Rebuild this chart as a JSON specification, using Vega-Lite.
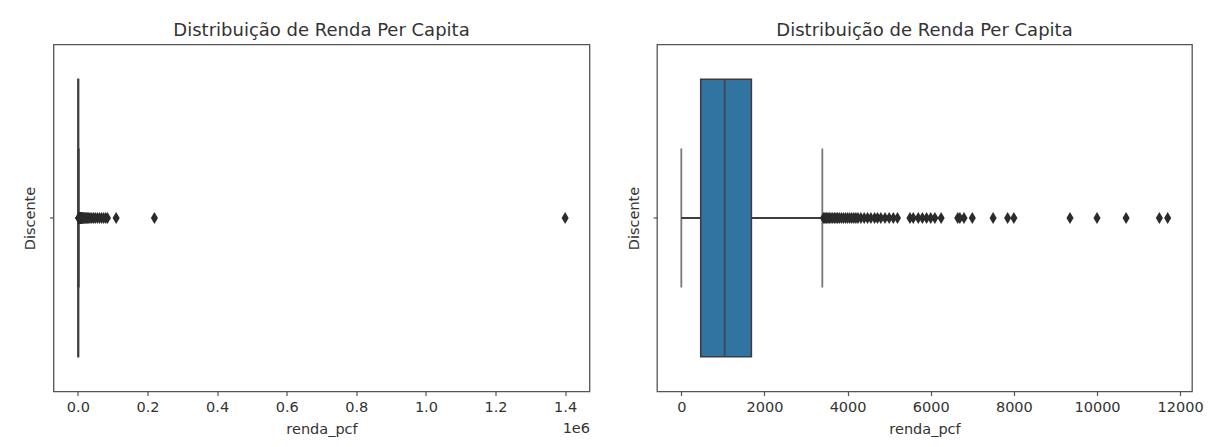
{
  "$schema": "https://vega.github.io/schema/vega-lite/v6.json",
  "padding": {"left": 21.5, "top": 20.5, "right": 0, "bottom": 0},
  "background": "white",
  "config": {
    "font": "DejaVu Sans",
    "view": {"stroke": "#555555", "strokeWidth": 1.3},
    "axis": {"grid": false, "domain": false, "tickColor": "#555555", "tickSize": 4, "tickWidth": 1.2, "labelFontSize": 14.5, "labelColor": "#333333", "titleFontSize": 14.5, "titleFontWeight": "normal", "titleColor": "#333333", "labelFont": "DejaVu Sans", "titleFont": "DejaVu Sans"},
    "title": {"fontSize": 18, "fontWeight": "normal", "color": "#333333", "font": "DejaVu Sans", "frame": "group", "anchor": "middle", "baseline": "alphabetic", "offset": 5}
  },
  "datasets": {
    "summary": [
      {"cat": "renda", "lower": 0, "q1": 467, "median": 1043, "q3": 1685, "upper": 3392}
    ],
    "fliers": [
      {"cat": "renda", "renda_pcf": 3420}, {"cat": "renda", "renda_pcf": 3450}, {"cat": "renda", "renda_pcf": 3480},
      {"cat": "renda", "renda_pcf": 3500}, {"cat": "renda", "renda_pcf": 3530}, {"cat": "renda", "renda_pcf": 3560},
      {"cat": "renda", "renda_pcf": 3600}, {"cat": "renda", "renda_pcf": 3640}, {"cat": "renda", "renda_pcf": 3680},
      {"cat": "renda", "renda_pcf": 3720}, {"cat": "renda", "renda_pcf": 3760}, {"cat": "renda", "renda_pcf": 3800},
      {"cat": "renda", "renda_pcf": 3850}, {"cat": "renda", "renda_pcf": 3900}, {"cat": "renda", "renda_pcf": 3950},
      {"cat": "renda", "renda_pcf": 4000}, {"cat": "renda", "renda_pcf": 4050}, {"cat": "renda", "renda_pcf": 4100},
      {"cat": "renda", "renda_pcf": 4150}, {"cat": "renda", "renda_pcf": 4200}, {"cat": "renda", "renda_pcf": 4250},
      {"cat": "renda", "renda_pcf": 4320}, {"cat": "renda", "renda_pcf": 4400}, {"cat": "renda", "renda_pcf": 4480},
      {"cat": "renda", "renda_pcf": 4560}, {"cat": "renda", "renda_pcf": 4650}, {"cat": "renda", "renda_pcf": 4720},
      {"cat": "renda", "renda_pcf": 4800}, {"cat": "renda", "renda_pcf": 4900}, {"cat": "renda", "renda_pcf": 5000},
      {"cat": "renda", "renda_pcf": 5100}, {"cat": "renda", "renda_pcf": 5200}, {"cat": "renda", "renda_pcf": 5500},
      {"cat": "renda", "renda_pcf": 5580}, {"cat": "renda", "renda_pcf": 5700}, {"cat": "renda", "renda_pcf": 5800},
      {"cat": "renda", "renda_pcf": 5900}, {"cat": "renda", "renda_pcf": 6000}, {"cat": "renda", "renda_pcf": 6100},
      {"cat": "renda", "renda_pcf": 6250}, {"cat": "renda", "renda_pcf": 6650}, {"cat": "renda", "renda_pcf": 6700},
      {"cat": "renda", "renda_pcf": 6800}, {"cat": "renda", "renda_pcf": 7000}, {"cat": "renda", "renda_pcf": 7500},
      {"cat": "renda", "renda_pcf": 7850}, {"cat": "renda", "renda_pcf": 8000}, {"cat": "renda", "renda_pcf": 9350},
      {"cat": "renda", "renda_pcf": 10000}, {"cat": "renda", "renda_pcf": 10700}, {"cat": "renda", "renda_pcf": 11500},
      {"cat": "renda", "renda_pcf": 11700},
      {"cat": "renda", "renda_pcf": 13000}, {"cat": "renda", "renda_pcf": 14500}, {"cat": "renda", "renda_pcf": 16000},
      {"cat": "renda", "renda_pcf": 18000}, {"cat": "renda", "renda_pcf": 20000}, {"cat": "renda", "renda_pcf": 22000},
      {"cat": "renda", "renda_pcf": 25000}, {"cat": "renda", "renda_pcf": 28000}, {"cat": "renda", "renda_pcf": 31000},
      {"cat": "renda", "renda_pcf": 35000}, {"cat": "renda", "renda_pcf": 40000}, {"cat": "renda", "renda_pcf": 45000},
      {"cat": "renda", "renda_pcf": 50000}, {"cat": "renda", "renda_pcf": 56000}, {"cat": "renda", "renda_pcf": 62000},
      {"cat": "renda", "renda_pcf": 68000}, {"cat": "renda", "renda_pcf": 74000}, {"cat": "renda", "renda_pcf": 80000},
      {"cat": "renda", "renda_pcf": 85000}, {"cat": "renda", "renda_pcf": 110000}, {"cat": "renda", "renda_pcf": 220000},
      {"cat": "renda", "renda_pcf": 1400000}
    ]
  },
  "spacing": 34.5,
  "hconcat": [
    {
      "width": 536,
      "height": 347,
      "title": {"text": "Distribuição de Renda Per Capita"},
      "encoding": {
        "y": {"field": "cat", "type": "nominal", "scale": {"paddingInner": 0, "paddingOuter": 0},
              "axis": {"title": "Discente", "labels": false, "titlePadding": 11}}
      },
      "layer": [
        {
          "data": {"name": "summary"},
          "mark": {"type": "rule", "color": "#3d3d3d", "strokeWidth": 1.8},
          "encoding": {
            "x": {"field": "lower", "type": "quantitative", "scale": {"domain": [-70000, 1470000], "nice": false, "zero": false},
                  "axis": {"orient": "bottom", "values": [0, 200000, 400000, 600000, 800000, 1000000, 1200000, 1400000],
                           "labelExpr": "format(datum.value / 1000000, '.1f')", "title": "renda_pcf",
                           "labelPadding": 5, "titlePadding": 8, "labelFlush": false}},
            "x2": {"field": "upper"}
          }
        },
        {
          "data": {"name": "summary"},
          "mark": {"type": "bar", "height": {"band": 0.8}, "fill": "#3274a1", "stroke": "#3d3d3d", "strokeWidth": 1.6},
          "encoding": {
            "x": {"field": "q1", "type": "quantitative",
                  "axis": {"orient": "bottom", "labels": false, "ticks": false, "title": "1e6", "titleAnchor": "end", "titleAlign": "right",
                           "titleBaseline": "alphabetic", "titlePadding": 41}},
            "x2": {"field": "q3"}
          }
        },
        {
          "data": {"name": "summary"},
          "mark": {"type": "tick", "size": 278, "thickness": 2, "color": "#3d3d3d"},
          "encoding": {"x": {"field": "median", "type": "quantitative", "axis": null}}
        },
        {
          "data": {"name": "summary"},
          "mark": {"type": "tick", "size": 139, "thickness": 1.8, "color": "#3d3d3d"},
          "encoding": {"x": {"field": "lower", "type": "quantitative", "axis": null}}
        },
        {
          "data": {"name": "summary"},
          "mark": {"type": "tick", "size": 139, "thickness": 1.8, "color": "#3d3d3d"},
          "encoding": {"x": {"field": "upper", "type": "quantitative", "axis": null}}
        },
        {
          "data": {"name": "fliers"},
          "mark": {"type": "point", "filled": true, "shape": "M0,-1L0.6,0L0,1L-0.6,0Z", "size": 140, "color": "#2b2b2b", "opacity": 1},
          "encoding": {"x": {"field": "renda_pcf", "type": "quantitative", "axis": null}}
        }
      ],
      "resolve": {"axis": {"x": "independent"}}
    },
    {
      "width": 535,
      "height": 347,
      "title": {"text": "Distribuição de Renda Per Capita"},
      "encoding": {
        "y": {"field": "cat", "type": "nominal", "scale": {"paddingInner": 0, "paddingOuter": 0},
              "axis": {"title": "Discente", "labels": false, "titlePadding": 11}}
      },
      "layer": [
        {
          "data": {"name": "summary"},
          "mark": {"type": "rule", "color": "#3d3d3d", "strokeWidth": 1.8},
          "encoding": {
            "x": {"field": "lower", "type": "quantitative", "scale": {"domain": [-585, 12285], "nice": false, "zero": false},
                  "axis": {"orient": "bottom", "values": [0, 2000, 4000, 6000, 8000, 10000, 12000], "format": "d", "title": "renda_pcf",
                           "labelPadding": 5, "titlePadding": 8, "labelFlush": false}},
            "x2": {"field": "upper"}
          }
        },
        {
          "data": {"name": "summary"},
          "mark": {"type": "bar", "height": {"band": 0.8}, "fill": "#3274a1", "stroke": "#3d3d3d", "strokeWidth": 1.6},
          "encoding": {"x": {"field": "q1", "type": "quantitative", "axis": null}, "x2": {"field": "q3"}}
        },
        {
          "data": {"name": "summary"},
          "mark": {"type": "tick", "size": 278, "thickness": 2, "color": "#3d3d3d"},
          "encoding": {"x": {"field": "median", "type": "quantitative", "axis": null}}
        },
        {
          "data": {"name": "summary"},
          "mark": {"type": "tick", "size": 139, "thickness": 1.8, "color": "#3d3d3d"},
          "encoding": {"x": {"field": "lower", "type": "quantitative", "axis": null}}
        },
        {
          "data": {"name": "summary"},
          "mark": {"type": "tick", "size": 139, "thickness": 1.8, "color": "#3d3d3d"},
          "encoding": {"x": {"field": "upper", "type": "quantitative", "axis": null}}
        },
        {
          "data": {"name": "fliers"},
          "transform": [{"filter": "datum.renda_pcf <= 12000"}],
          "mark": {"type": "point", "filled": true, "shape": "M0,-1L0.6,0L0,1L-0.6,0Z", "size": 140, "color": "#2b2b2b", "opacity": 1},
          "encoding": {"x": {"field": "renda_pcf", "type": "quantitative", "axis": null}}
        }
      ],
      "resolve": {"axis": {"x": "independent"}}
    }
  ]
}
